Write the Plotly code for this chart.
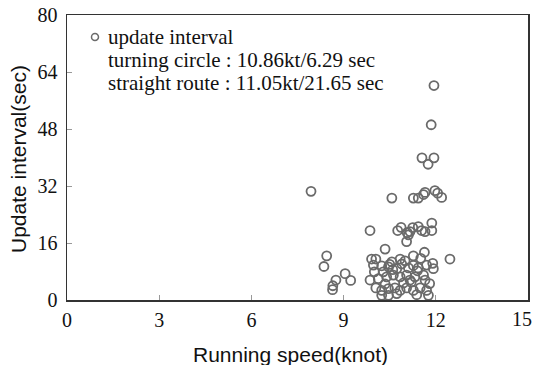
import plotly.graph_objects as go

# Running speed (knot) and update interval (sec)
speed = [7.94, 11.94, 11.85, 11.55, 11.94, 11.75,
         10.57, 11.27, 11.43, 11.60, 11.65, 11.97, 12.19, 12.06,
         9.86, 10.76, 10.87, 11.07, 11.16, 11.25, 11.05, 11.11, 11.54, 11.65, 11.87, 11.87, 11.43,
         10.35, 8.45, 8.36, 9.05, 9.23, 8.75, 8.65, 8.64, 12.46,
         10.05, 10.84, 11.27, 11.63, 11.51, 10.57, 9.91,
         9.97, 10.24, 10.46, 10.73, 10.89, 11.11, 11.27, 11.43, 11.70, 11.92, 11.90,
         9.86, 10.13, 10.40, 10.62, 10.84, 11.05, 11.16, 11.32, 11.60, 11.65, 10.29, 10.00,
         10.05, 10.24, 10.46, 10.67, 10.84, 11.05, 11.27, 11.49, 11.70,
         10.24, 10.46, 10.73, 11.38, 11.76,
         10.35, 10.95, 11.40, 11.80, 10.60, 11.20, 11.00, 10.50]
interval = [30.5, 60.2, 49.2, 39.9, 39.9, 38.1,
            28.6, 28.6, 28.6, 29.6, 30.2, 30.7, 28.8, 30.0,
            19.5, 19.5, 20.4, 18.9, 19.2, 20.3, 16.4, 18.3, 19.5, 19.2, 21.6, 19.5, 20.6,
            14.3, 12.4, 9.4, 7.4, 5.5, 5.6, 4.0, 2.9, 11.5,
            11.5, 11.5, 12.4, 13.4, 11.7, 10.7, 11.5,
            9.8, 9.6, 9.3, 8.8, 10.1, 9.0, 9.7, 9.0, 9.8, 8.8, 10.3,
            5.6, 6.0, 6.5, 7.0, 6.5, 7.0, 5.6, 6.5, 7.0, 5.6, 7.9, 7.9,
            3.4, 2.7, 3.2, 3.4, 2.7, 3.4, 2.7, 3.4, 2.7,
            1.3, 1.3, 1.8, 1.5, 1.3,
            4.5, 4.8, 8.2, 4.6, 8.5, 5.0, 11.0, 10.0]

x_ticks = [0, 3, 6, 9, 12, 15]
x_tick_labels = ["0", "3", "6", "9", "12", "15"]
y_ticks = [0, 16, 32, 48, 64, 80]
x_title = "Running speed(knot)"
y_title = "Update interval(sec)"
legend_lines = ["update interval",
                "turning circle : 10.86kt/6.29 sec",
                "straight route : 11.05kt/21.65 sec"]

W, H = 534, 365
L, R, T, B = 67, 6, 15, 65
PW, PH = W - L - R, H - T - B


def px(xp):
    return (xp - L) / PW


def py(yp):
    return (H - B - yp) / PH


fig = go.Figure()
fig.add_trace(go.Scatter(
    x=speed, y=interval, mode="markers",
    marker=dict(symbol="circle-open", size=9, color="#6a6a6a", line=dict(width=1.8, color="#6a6a6a")),
    showlegend=False, hoverinfo="skip",
))

serif = "Liberation Serif, Times New Roman, serif"
sans = "Liberation Sans, Arial, sans-serif"
tick_font = dict(family=serif, size=20, color="#111111")

axis_common = dict(
    showgrid=False, zeroline=False, showline=True, mirror=True, automargin=False,
    linecolor="#333333", linewidth=1.5,
    ticks="inside", ticklen=5, tickwidth=1, tickcolor="#999999",
    tickfont=tick_font,
)

# the last x label sits at the figure's right edge; drawn right-aligned so it stays visible
fig.update_xaxes(range=[0, 15], tickvals=x_ticks, ticktext=x_tick_labels[:-1] + [""],
                 ticklabelstandoff=1, **axis_common)
fig.update_yaxes(range=[0, 80], tickvals=y_ticks, ticklabelstandoff=4, **axis_common)
fig.add_annotation(xref="paper", yref="paper", x=px(W), y=py(319), text=x_tick_labels[-1],
                   showarrow=False, xanchor="right", yanchor="middle", font=tick_font)

# axis titles
fig.add_annotation(xref="paper", yref="paper", x=px(290), y=py(354), text=x_title, showarrow=False,
                   xanchor="center", yanchor="middle", font=dict(family=sans, size=21, color="#111111"))
fig.add_annotation(xref="paper", yref="paper", x=px(18), y=py(159), text=y_title, showarrow=False,
                   textangle=-90, xanchor="center", yanchor="middle",
                   font=dict(family=sans, size=21, color="#111111"))

# legend-like text block
fig.add_shape(type="circle", xref="paper", yref="paper", xsizemode="pixel", ysizemode="pixel",
              xanchor=px(95), yanchor=py(37),
              x0=-3.5, x1=3.5, y0=-3.5, y1=3.5,
              line=dict(color="#6a6a6a", width=1.5), fillcolor="rgba(0,0,0,0)")
for i, t in enumerate(legend_lines):
    fig.add_annotation(xref="paper", yref="paper", x=px(106), y=py(37 + i * 23),
                       text=t, showarrow=False, xanchor="left", yanchor="middle",
                       font=dict(family=serif, size=21, color="#111111"))

fig.update_layout(
    width=W, height=H,
    margin=dict(l=L, r=R, t=T, b=B),
    paper_bgcolor="white", plot_bgcolor="white",
    hovermode=False,
)

fig.write_html("out.html", config={"displayModeBar": False, "staticPlot": True},
               post_script="document.body.style.margin='0';")
